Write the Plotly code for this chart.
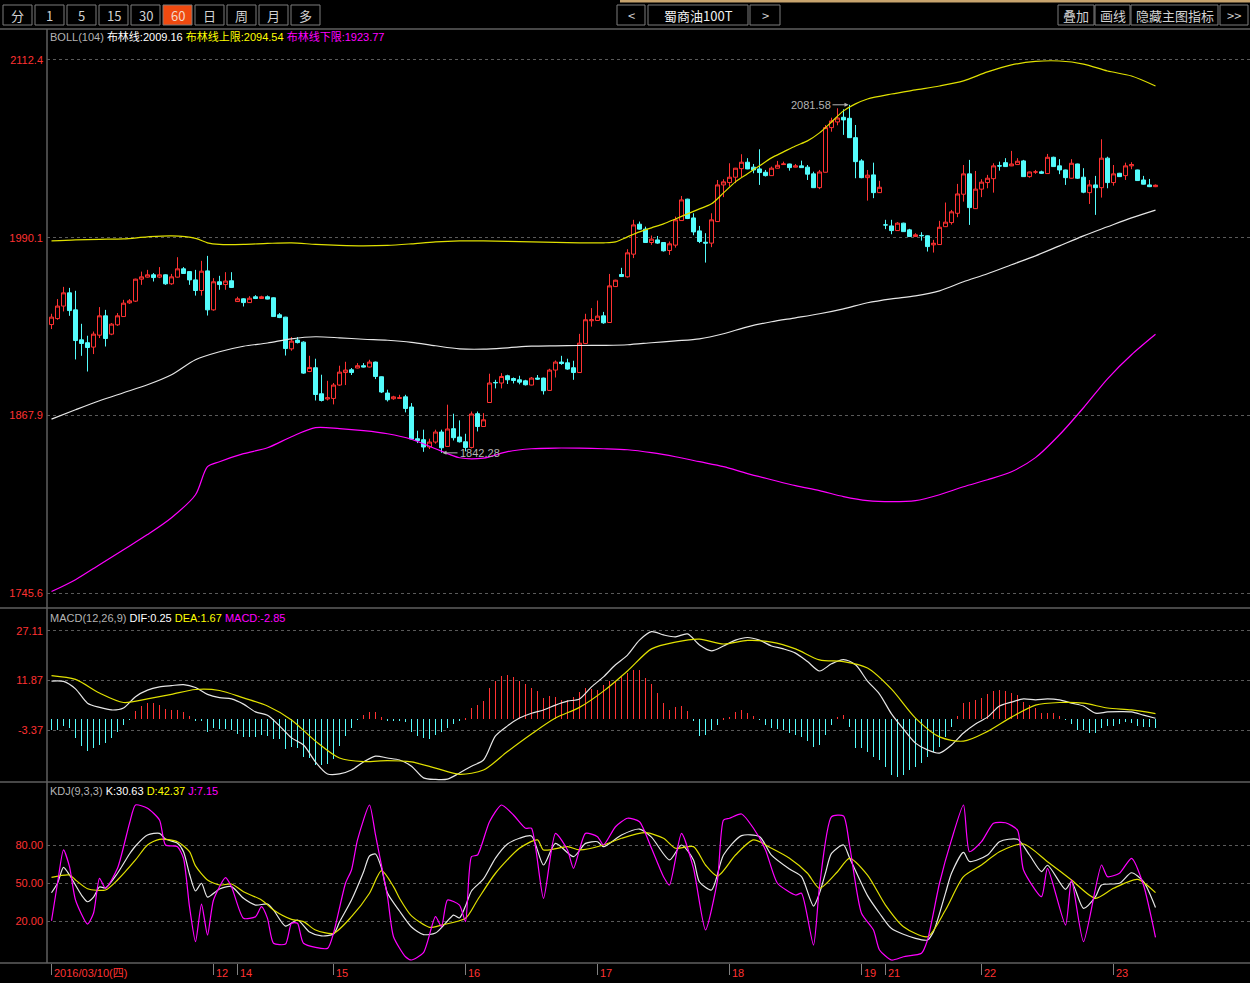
import plotly.graph_objects as go

# ---------------- data ----------------
day_start = [0, 27, 31, 47, 69, 91, 113, 135, 139, 155, 177]
day_text = ["2016/03/10(四)", "12", "14", "15", "16", "17", "18", "19", "21", "22", "23"]

open_ = [1930.5,1934.6,1943.2,1952.3,1940.6,1920.0,1918.0,1915.0,1923.2,1936.5,
         1923.9,1930.3,1936.0,1945.4,1946.6,1961.7,1963.1,1964.7,1963.1,1964.7,
         1958.5,1963.1,1968.8,1966.9,1961.2,1953.9,1967.4,1940.6,1959.9,1958.0,
         1960.6,1946.3,1948.2,1945.6,1949.6,1948.4,1949.6,1948.9,1937.2,1935.6,
         1913.8,1919.8,1918.4,1898.2,1900.8,1882.9,1879.3,1879.7,1888.9,1897.5,
         1899.4,1900.6,1902.2,1901.3,1904.7,1894.6,1883.4,1879.5,1879.7,1880.8,
         1873.8,1852.0,1851.3,1846.3,1849.7,1856.6,1846.7,1858.9,1853.2,1849.9,
         1846.0,1869.2,1860.4,1876.9,1890.7,1890.3,1895.3,1893.4,1892.5,1891.8,
         1888.9,1893.7,1893.7,1885.2,1899.2,1904.7,1904.2,1900.8,1897.5,1917.5,
         1933.1,1933.3,1936.5,1931.9,1956.6,1964.9,1963.3,1978.9,1999.5,1996.1,
         1986.9,1988.7,1986.9,1981.4,1985.1,2002.0,2016.7,2003.8,1994.9,1987.1,
         1986.5,2001.3,2026.5,2028.1,2031.8,2037.7,2042.1,2038.7,2037.5,2035.2,
         2032.9,2038.0,2040.5,2040.9,2038.7,2039.6,2038.7,2034.1,2024.6,2035.2,
         2065.9,2069.8,2073.0,2072.3,2059.0,2043.0,2031.5,2033.4,2021.2,1999.0,
         1998.3,1995.1,2000.2,1995.6,1991.0,1991.8,1991.5,1985.3,1985.5,1997.8,
         2000.6,2007.0,2020.1,2034.1,2010.2,2023.6,2028.1,2030.8,2039.7,2041.8,
         2039.6,2040.5,2043.0,2032.2,2035.4,2035.5,2034.3,2045.5,2039.6,2036.8,
         2031.1,2040.9,2031.8,2021.2,2026.5,2024.6,2044.9,2028.1,2034.5,2032.9,
         2039.6,2036.8,2029.9,2026.5,2025.3]
high = [1937.9,1948.0,1956.4,1955.7,1953.7,1931.0,1922.8,1925.7,1942.5,1940.6,
        1931.5,1938.4,1947.5,1948.0,1962.0,1966.9,1968.1,1965.9,1970.0,1965.0,
        1965.3,1976.8,1970.0,1967.2,1968.1,1974.3,1977.7,1962.4,1964.0,1966.5,
        1966.5,1949.6,1948.6,1950.0,1950.7,1950.3,1950.5,1949.2,1938.4,1935.8,
        1921.9,1921.9,1919.0,1909.0,1907.0,1896.0,1891.8,1890.3,1902.2,1904.9,
        1900.6,1904.0,1904.0,1906.3,1905.0,1894.8,1885.7,1881.5,1882.2,1882.2,
        1876.5,1857.5,1858.2,1852.0,1858.2,1858.2,1875.4,1869.2,1864.6,1855.4,
        1870.7,1870.7,1869.6,1896.7,1892.5,1897.1,1896.0,1894.1,1895.3,1892.5,
        1894.4,1895.8,1894.0,1900.1,1905.8,1909.0,1907.0,1905.6,1924.1,1937.9,
        1941.8,1947.0,1939.2,1965.3,1961.3,1969.5,1982.3,2002.5,2001.3,1997.8,
        1991.7,1991.4,1987.1,1987.6,2004.7,2018.9,2017.0,2007.0,1998.3,1993.3,
        2007.0,2029.9,2030.4,2041.4,2038.2,2047.6,2044.9,2040.9,2051.0,2036.8,
        2039.1,2043.0,2042.5,2041.1,2040.9,2043.2,2040.2,2035.6,2036.8,2067.7,
        2072.7,2079.2,2078.5,2081.58,2067.7,2044.2,2036.8,2041.8,2029.3,2002.5,
        2002.5,2000.9,2000.5,1996.3,1993.3,1994.0,1991.8,1988.7,2001.8,2014.4,
        2009.3,2027.2,2040.2,2043.7,2036.1,2030.4,2033.4,2041.4,2042.5,2044.9,
        2049.9,2044.9,2043.7,2035.6,2036.8,2036.3,2047.8,2045.9,2044.2,2037.0,
        2044.2,2041.1,2038.0,2029.9,2032.7,2057.9,2045.9,2040.2,2034.8,2041.8,
        2042.1,2037.0,2032.7,2030.6,2026.8]
low = [1927.4,1933.8,1939.5,1936.5,1906.5,1909.0,1898.2,1910.2,1921.2,1915.4,
       1923.2,1929.6,1935.8,1944.7,1946.0,1957.8,1962.8,1960.1,1962.4,1957.8,
       1957.8,1962.8,1965.3,1957.8,1950.4,1950.4,1936.7,1940.0,1954.4,1954.4,
       1955.6,1946.1,1942.9,1945.3,1948.0,1948.2,1947.8,1935.8,1934.9,1909.2,
       1912.5,1917.5,1896.6,1897.8,1878.3,1877.6,1878.3,1875.6,1888.4,1888.9,
       1895.8,1900.4,1901.0,1901.0,1893.0,1883.4,1877.6,1878.8,1879.5,1870.1,
       1851.5,1849.0,1843.0,1844.9,1848.6,1842.28,1846.4,1850.8,1849.4,1843.3,
       1845.3,1857.0,1860.2,1876.7,1886.6,1886.6,1889.6,1890.0,1889.4,1888.6,
       1888.7,1892.5,1882.4,1884.8,1894.1,1902.8,1899.4,1892.5,1897.3,1917.3,
       1929.1,1933.0,1931.0,1931.7,1956.3,1963.3,1962.8,1976.2,1995.8,1986.6,
       1985.3,1986.0,1980.7,1978.4,1983.4,2001.8,2003.0,1991.9,1986.5,1973.1,
       1983.7,2001.0,2018.1,2025.3,2027.7,2031.8,2037.3,2034.5,2026.5,2032.3,
       2032.7,2037.9,2040.2,2036.3,2038.5,2038.2,2029.9,2024.4,2023.6,2035.0,
       2063.1,2067.5,2060.9,2058.8,2031.1,2031.1,2015.7,2017.4,2021.0,1996.1,
       1992.6,1994.9,1994.2,1990.8,1990.8,1988.2,1980.7,1980.0,1985.3,1997.6,
       1999.2,2004.3,2015.0,1999.0,2010.0,2018.1,2024.2,2021.2,2036.3,2038.9,
       2039.4,2040.3,2032.0,2031.5,2034.1,2034.0,2034.1,2038.9,2033.9,2026.5,
       2030.9,2030.6,2020.8,2013.4,2005.9,2017.8,2024.2,2026.0,2032.0,2029.9,
       2037.3,2029.3,2026.8,2025.0,2025.0]
close = [1935.6,1943.2,1952.3,1940.1,1919.5,1917.5,1914.7,1923.9,1936.5,1920.9,
         1930.8,1936.5,1945.2,1946.8,1961.7,1963.3,1964.7,1962.8,1964.7,1958.5,
         1963.3,1968.8,1965.6,1961.2,1953.9,1967.2,1940.6,1959.9,1958.0,1960.4,
         1956.0,1948.2,1945.6,1948.6,1948.4,1949.6,1948.0,1936.0,1935.3,1914.0,
         1919.1,1918.1,1897.1,1901.0,1882.4,1878.3,1880.2,1888.9,1897.8,1899.2,
         1897.5,1902.2,1901.3,1904.7,1894.8,1884.1,1878.8,1880.8,1880.2,1872.8,
         1851.8,1850.8,1846.3,1849.7,1856.6,1845.8,1858.7,1852.7,1849.9,1846.0,
         1869.0,1860.4,1865.0,1890.3,1890.5,1894.8,1892.5,1892.0,1890.9,1889.1,
         1893.7,1893.0,1885.0,1899.2,1904.7,1903.7,1899.9,1897.5,1917.7,1933.8,
         1933.8,1936.3,1931.7,1957.1,1961.0,1963.5,1979.8,1999.0,1996.1,1986.9,
         1989.2,1986.5,1981.2,1986.0,2002.5,2016.2,2003.4,1994.2,1987.6,1986.5,
         2002.5,2026.5,2028.6,2031.8,2038.0,2042.1,2037.5,2036.8,2035.0,2032.9,
         2038.0,2040.0,2040.9,2038.4,2039.6,2038.4,2033.9,2024.6,2035.4,2065.9,
         2070.5,2072.5,2071.2,2059.0,2042.5,2031.5,2033.2,2021.2,2024.9,1999.0,
         1995.1,2000.2,1994.4,1991.0,1992.2,1991.6,1984.1,1986.4,1997.4,2000.9,
         2008.0,2020.3,2034.1,2010.9,2023.6,2028.4,2031.1,2039.6,2039.5,2039.1,
         2040.9,2042.8,2032.2,2035.4,2035.4,2034.5,2045.5,2039.1,2036.8,2031.5,
         2041.4,2031.1,2021.5,2026.5,2024.6,2044.9,2028.1,2034.1,2032.2,2039.6,
         2040.5,2029.5,2027.0,2025.3,2026.3]

# BOLL(104) lines, read at sampled bar positions
up_idx = [0,4,8,12,16,20,24,26,28,32,36,40,44,48,52,56,60,64,68,72,76,80,84,88,92,94,96,98,100,
          102,104,106,108,110,112,114,116,118,120,122,124,126,128,130,132,134,136,140,144,148,152,
          156,160,164,168,172,176,180,184]
boll_up = [1988.0,1988.7,1989.1,1989.4,1990.8,1991.5,1989.8,1986.7,1985.6,1985.6,1986.3,1986.7,
           1985.6,1984.9,1984.6,1984.9,1986.0,1987.3,1988.0,1988.0,1987.7,1987.3,1987.0,1986.7,
           1986.7,1987.3,1990.8,1994.2,1997.0,1999.7,2003.1,2006.6,2010.0,2013.5,2021.0,2028.6,
           2034.1,2039.6,2045.1,2049.2,2053.3,2056.8,2062.3,2069.8,2077.4,2082.2,2085.6,2089.0,
           2091.8,2094.5,2098.0,2104.2,2109.0,2111.4,2111.7,2109.6,2104.8,2101.4,2094.54]
mid_idx = [0,4,8,12,16,20,24,28,32,36,40,44,48,52,56,60,64,68,72,76,80,84,88,92,96,100,104,108,
           112,116,120,124,128,132,136,140,144,148,152,156,160,164,168,172,176,180,184]
boll_mid = [1865.5,1871.9,1878.1,1883.6,1889.1,1896.0,1906.3,1911.8,1915.6,1917.8,1920.7,1922.1,
            1921.4,1920.4,1919.7,1918.3,1915.9,1913.8,1913.6,1914.5,1915.6,1915.9,1916.1,1916.2,
            1916.6,1918.0,1919.3,1920.7,1924.2,1928.9,1932.4,1935.1,1937.9,1941.3,1945.5,1948.2,
            1950.2,1953.7,1959.9,1965.4,1971.6,1977.7,1984.6,1991.5,1997.7,2003.8,2009.16]
dn_idx = [0,4,8,12,16,20,24,26,28,32,36,40,44,48,52,56,60,64,68,72,76,80,84,88,92,96,100,104,108,
          112,116,120,124,128,132,136,140,144,148,152,156,160,164,168,172,176,180,184]
boll_dn = [1746.9,1755.1,1765.4,1775.7,1786.1,1797.7,1813.5,1832.8,1836.2,1841.7,1845.8,1853.4,
           1859.6,1858.9,1857.5,1855.4,1851.6,1845.1,1838.9,1838.7,1843.1,1845.1,1845.6,1845.5,
           1845.1,1844.4,1842.4,1839.6,1836.2,1832.8,1828.0,1823.8,1819.7,1816.3,1812.2,1809.4,
           1808.7,1809.4,1813.5,1819.0,1823.8,1829.3,1839.0,1854.7,1873.3,1893.2,1909.7,1923.77]

# MACD(12,26,9)
dif_idx = list(range(0, 185, 2))
dif = [11.7,11.6,9.3,4.9,3.6,2.8,3.4,6.9,8.9,9.9,
       10.3,10.6,9.7,7.6,6.6,6.2,4.6,2.2,1.2,-2.1,
       -5.8,-8.0,-13.2,-16.9,-16.9,-15.7,-13.2,-11.4,-12.0,-12.6,
       -14.5,-18.1,-18.6,-18.5,-16.6,-14.5,-12.6,-5.2,-2.1,0.3,
       1.8,2.8,4.3,5.5,6.2,9.9,13.0,16.7,19.7,24.3,
       26.9,25.9,25.3,26.2,22.8,21.0,22.5,24.3,25.1,24.3,
       22.5,21.6,20.3,17.7,14.8,17.0,18.3,16.7,11.7,7.7,
       1.6,-3.1,-7.4,-9.5,-10.5,-8.0,-4.3,-1.5,0.6,4.0,
       5.2,6.2,5.9,6.2,5.9,4.9,4.0,1.8,2.2,2.3,
       2.2,1.2,0.25]
dea_idx = list(range(0, 185, 4))
dea = [13.4,12.2,8.0,5.1,6.2,7.6,9.1,8.8,6.5,4.0,
       -0.3,-6.8,-12.0,-13.1,-12.8,-13.2,-15.1,-17.0,-15.7,-10.0,
       -4.6,0.3,3.6,8.6,14.8,21.6,23.7,24.6,23.1,24.2,
       23.7,21.6,18.2,17.7,15.7,9.2,0.3,-5.5,-6.8,-3.8,
       0.6,4.3,5.1,4.9,3.4,2.8,1.67]
macd_hist = [-3.4,-3.4,-2.1,-2.8,-5.9,-8.2,-9.7,-9.0,-8.0,-7.3,
             -5.9,-3.9,-1.8,-0.2,2.5,4.0,4.8,4.8,4.3,3.0,
             2.8,2.8,2.3,0.9,-0.3,-0.3,-3.9,-2.8,-3.1,-3.1,
             -3.4,-4.6,-5.4,-5.4,-5.4,-4.9,-5.2,-6.2,-6.2,-9.2,
             -8.5,-9.0,-11.6,-12.1,-14.2,-14.2,-13.8,-12.4,-8.2,-5.1,
             -2.7,-0.2,1.2,2.3,2.3,0.5,-0.3,-0.5,-0.3,-0.8,
             -3.9,-5.1,-5.9,-6.2,-4.9,-3.9,-2.7,-1.5,-0.3,0.3,
             3.3,4.3,5.5,9.5,11.7,13.3,13.6,12.8,11.8,10.8,
             9.6,8.6,6.6,7.1,6.9,5.9,5.9,6.7,8.4,9.5,
             9.2,8.9,10.5,11.8,11.8,13.0,14.1,15.1,15.1,12.7,
             10.8,7.9,4.8,2.8,3.8,4.0,2.6,-0.3,-5.2,-4.9,
             -3.4,-1.8,0.2,0.7,2.1,2.8,1.8,0.9,-0.2,-1.8,
             -2.8,-3.1,-3.4,-4.4,-4.9,-5.4,-6.9,-8.5,-8.0,-4.9,
             -1.8,0.7,1.2,-2.5,-9.0,-9.0,-10.0,-11.6,-12.6,-14.7,
             -17.2,-17.7,-17.2,-15.6,-14.7,-13.6,-11.6,-10.0,-8.5,-5.4,
             -2.3,0.9,4.8,5.1,5.9,6.6,7.7,8.7,8.9,8.7,
             7.9,7.4,5.3,4.3,3.3,1.9,1.9,1.8,0.9,-0.2,
             -1.5,-3.4,-3.4,-4.4,-4.2,-2.8,-2.1,-2.1,-1.5,-0.8,
             -1.3,-2.1,-2.3,-2.5,-2.85]

# KDJ(9,3,3)
k_idx = [0,1,2,3,5,6,7,8,9,11,13,14,16,18,19,21,22,23,24,25,26,28,30,32,34,36,37,39,41,43,45,47,48,
         50,52,53,54,55,56,58,60,62,64,66,67,68,69,70,72,74,76,78,80,82,84,87,89,91,92,95,98,100,
         103,105,107,108,110,112,115,118,120,123,125,127,128,129,130,132,133,136,138,140,144,146,
         147,149,150,152,153,156,158,161,163,165,166,169,170,172,174,175,178,180,182,184]
k_val = [42.3,49.8,62.4,56.3,40.5,35.2,38.9,46.9,46.1,57.7,72.9,79.2,87.9,89.2,84.7,81.3,74.7,57.1,
         43.7,49.8,38.9,45.3,47.1,37.9,32.6,33.4,28.7,16.0,20.8,11.3,8.2,9.7,19.2,36.6,58.7,71.3,
         72.9,61.8,42.1,27.9,15.3,9.3,10.5,20.0,24.7,22.4,31.8,43.7,53.2,69.7,80.8,85.3,87.1,64.2,
         81.3,70.8,81.3,82.6,78.7,87.9,92.6,86.2,68.2,80.0,68.2,50.8,44.5,72.1,87.4,86.6,72.0,61.0,
         55.0,31.8,42.0,58.0,73.4,80.0,70.0,40.0,26.1,14.0,6.3,5.0,11.6,42.0,57.7,74.2,67.0,72.1,
         82.6,84.5,72.1,59.0,64.0,45.0,51.0,30.0,39.2,48.4,49.8,58.1,51.0,30.63]
d_idx = [0,3,4,6,9,11,14,16,18,21,23,24,26,28,30,32,35,37,40,42,44,47,50,53,55,57,58,60,63,65,69,
         71,74,78,81,82,86,88,92,95,99,102,104,107,109,111,114,117,120,123,126,128,131,133,136,139,
         142,146,149,152,155,158,162,166,170,174,177,181,184]
d_val = [54.5,56.3,52.4,45.5,44.5,52.4,68.2,80.0,84.5,82.6,74.7,63.5,52.4,48.4,49.2,43.1,36.6,28.7,
         21.3,19.5,12.9,10.3,23.4,41.9,59.7,47.1,38.0,24.0,15.0,16.8,22.1,36.6,57.7,77.4,84.0,76.1,
         78.7,76.1,80.0,85.3,89.7,85.3,77.4,78.7,64.2,55.5,72.1,84.0,77.4,69.5,57.7,45.8,58.9,69.5,
         56.3,32.6,15.5,7.6,28.7,55.0,64.2,74.7,80.8,66.8,52.4,37.9,45.8,52.9,42.37]
j_idx = [0,1,2,3,4,6,7,8,9,11,13,14,16,18,19,21,22,23,24,25,26,27,29,30,32,34,35,36,37,39,40,41,42,
         46,47,49,50,51,53,54,56,57,59,60,62,64,65,66,68,69,70,71,73,75,77,79,80,82,84,86,87,89,91,
         92,94,96,98,100,102,103,105,107,109,111,112,113,115,117,119,121,124,125,127,128,130,132,
         133,135,137,138,140,142,145,146,148,150,152,153,155,157,159,161,162,165,166,169,170,172,
         175,176,178,180,182,184]
j_val = [20.2,49.8,76.1,62.9,36.6,17.6,26.1,53.7,45.8,61.6,97.1,111.6,109.0,99.7,80.0,78.7,69.5,
         31.3,3.7,33.4,8.9,36.6,54.2,47.1,22.1,23.4,31.3,22.1,2.4,1.8,18.2,18.2,2.4,-1.6,10.3,49.8,
         60.3,84.0,111.6,87.9,39.2,7.6,-8.2,-10.8,-5.0,23.4,15.5,36.6,32.6,19.5,70.8,72.1,98.4,
         111.6,103.7,93.2,93.2,37.9,89.2,76.1,61.6,89.2,86.6,80.0,94.4,101.1,98.4,77.4,55.0,48.4,
         89.2,61.6,12.9,52.4,99.7,101.1,104.5,93.2,76.1,49.8,40.5,41.9,1.0,47.1,102.3,102.9,80.0,
         26.1,12.9,-2.9,-10.8,-8.2,-5.5,5.0,49.8,84.0,111.6,74.7,82.6,97.1,97.6,91.8,60.3,39.2,
         61.6,16.8,52.4,3.7,64.2,55.0,57.7,69.5,48.4,7.15]

main_ticks = [1745.6, 1867.9, 1990.1, 2112.4]
macd_ticks = [-3.37, 11.87, 27.11]
kdj_ticks = [20, 50, 80]

# ---------------- geometry helpers ----------------
W, H = 1250, 983
ML, MT, MB = 47, 29, 20
PW, PH = W - ML, H - MT - MB


def pxx(x):
    return (x - ML) / PW


def pxy(y):
    return (H - MB - y) / PH


RED = '#ff3232'
CYAN = '#54fcfc'
YEL = '#e0e000'
MAG = '#ff00ff'
WHT = '#e6e6e6'
GRID = '#5a5a5a'
BORDER = '#5f5f5f'
FONT = 'Liberation Sans, Noto Sans CJK SC, sans-serif'
CJK = 'Noto Sans CJK SC, sans-serif'

xs = list(range(len(close)))

fig = go.Figure()
fig.add_trace(go.Candlestick(
    x=xs, open=open_, high=high, low=low, close=close,
    increasing=dict(line=dict(color=RED, width=1), fillcolor='#000000'),
    decreasing=dict(line=dict(color=CYAN, width=1), fillcolor=CYAN),
    whiskerwidth=0, xaxis='x', yaxis='y', hoverinfo='skip', showlegend=False))


def line(xv, yv, color, ax, w=1.2, sm=0.8):
    fig.add_trace(go.Scatter(x=xv, y=yv, mode='lines', yaxis=ax, xaxis='x',
                             line=dict(color=color, width=w, shape='spline', smoothing=sm),
                             hoverinfo='skip', showlegend=False))


line(up_idx, boll_up, YEL, 'y')
line(mid_idx, boll_mid, WHT, 'y')
line(dn_idx, boll_dn, MAG, 'y')

fig.add_trace(go.Bar(x=xs, y=macd_hist, width=1 / 6, yaxis='y2', xaxis='x',
                     marker=dict(color=[RED if v >= 0 else CYAN for v in macd_hist], line=dict(width=0)),
                     hoverinfo='skip', showlegend=False))
line(dif_idx, dif, WHT, 'y2')
line(dea_idx, dea, YEL, 'y2')

line(k_idx, k_val, WHT, 'y3', sm=0.7)
line(d_idx, d_val, YEL, 'y3', sm=0.7)
line(j_idx, j_val, MAG, 'y3', sm=0.6)


def yax(domain, rng, ticks, text):
    return dict(domain=domain, range=rng, anchor='x', tickmode='array', tickvals=ticks, ticktext=text,
                showgrid=True, gridcolor=GRID, griddash='dot', gridwidth=1, zeroline=False,
                showline=False, ticks='', tickfont=dict(color=RED, size=11, family=FONT),
                fixedrange=True, ticklabelstandoff=3)


fig.update_layout(
    width=W, height=H,
    margin=dict(l=ML, r=0, t=MT, b=MB, pad=0),
    paper_bgcolor='#000000', plot_bgcolor='#000000',
    showlegend=False, hovermode=False,
    boxgap=1 / 3, boxgroupgap=0, bargap=0,
    xaxis=dict(domain=[0, 1], range=[-0.75, 199.75], anchor='y3', showgrid=False, zeroline=False,
               showticklabels=False, ticks='outside', ticklen=11, tickcolor='#808080', tickwidth=1,
               tickmode='array', tickvals=day_start, rangeslider=dict(visible=False),
               showline=False, fixedrange=True),
    yaxis=yax([pxy(607), 1.0], [1736.3, 2133.7], main_ticks, [f"{v:.1f}" for v in main_ticks]),
    yaxis2=yax([pxy(781), pxy(609)], [-19.07, 33.88], macd_ticks, [f"{v:.2f}" for v in macd_ticks]),
    yaxis3=yax([0, pxy(783)], [-13.16, 128.95], kdj_ticks, [f"{v:.2f}" for v in kdj_ticks]),
)

shapes = []
ann = []

# panel borders
for yy in (29, 608, 782, 963):
    shapes.append(dict(type='line', xref='paper', yref='paper', x0=pxx(0), x1=1, y0=pxy(yy), y1=pxy(yy),
                       line=dict(color=BORDER, width=1.5)))
shapes.append(dict(type='line', xref='paper', yref='paper', x0=0, x1=0, y0=0, y1=1,
                   line=dict(color=BORDER, width=1.5)))
shapes.append(dict(type='rect', xref='paper', yref='paper', x0=pxx(620), x1=1, y0=pxy(2.5), y1=pxy(0),
                   fillcolor='#c8a46e', line=dict(width=0)))


def button(x0, x1, label, fill='#000000', color='#d2d2d2', size=13):
    shapes.append(dict(type='rect', xref='paper', yref='paper', x0=pxx(x0), x1=pxx(x1),
                       y0=pxy(25), y1=pxy(5), fillcolor=fill, line=dict(color='#7c7c7c', width=1)))
    ann.append(dict(xref='paper', yref='paper', x=pxx((x0 + x1) / 2), y=pxy(15), text=label,
                    showarrow=False, xanchor='center', yanchor='middle',
                    font=dict(family=CJK, size=size, color=color)))


for i, lab in enumerate(["分", "1", "5", "15", "30", "60", "日", "周", "月", "多"]):
    x0 = 3 + 32 * i
    button(x0, x0 + 29, lab, fill='#f04a10' if lab == "60" else '#000000',
           color='#f4d8c8' if lab == "60" else '#d2d2d2')
button(617, 645, "&lt;")
button(648, 748, "蜀商油100T", color='#f0f0f0')
button(750, 780, "&gt;")
button(1058, 1094, "叠加")
button(1095, 1130, "画线")
button(1131, 1218, "隐藏主图指标")
button(1220, 1248, "&gt;&gt;")

# indicator titles
def title(y, parts):
    txt = " ".join(f'<span style="color:{c}">{t}</span>' for t, c in parts)
    ann.append(dict(xref='paper', yref='paper', x=pxx(48), y=pxy(y), text=txt, showarrow=False,
                    xanchor='left', yanchor='middle', font=dict(family=FONT, size=11)))


title(37, [("BOLL(104)", '#b4b4b4'), ("布林线:2009.16", '#ffffff'), ("布林线上限:2094.54", '#ffff00'),
           ("布林线下限:1923.77", '#ff00ff')])
title(618, [("MACD(12,26,9)", '#b4b4b4'), ("DIF:0.25", '#ffffff'), ("DEA:1.67", '#ffff00'),
            ("MACD:-2.85", '#ff00ff')])
title(791, [("KDJ(9,3,3)", '#b4b4b4'), ("K:30.63", '#ffffff'), ("D:42.37", '#ffff00'),
            ("J:7.15", '#ff00ff')])

# extreme-price markers
hi_i = high.index(max(high))
lo_i = low.index(min(low))
ann.append(dict(xref='x', yref='y', x=hi_i, y=max(high), text=f"{max(high):.2f}", showarrow=True,
                ax=-17, ay=0, xanchor='right', arrowhead=2, arrowsize=0.8, arrowwidth=1,
                arrowcolor='#b4b4b4', standoff=1, font=dict(family=FONT, size=11, color='#b4b4b4')))
ann.append(dict(xref='x', yref='y', x=lo_i, y=min(low), text=f"{min(low):.2f}", showarrow=True,
                ax=16, ay=0, xanchor='left', arrowhead=2, arrowsize=0.8, arrowwidth=1,
                arrowcolor='#b4b4b4', standoff=1, font=dict(family=FONT, size=11, color='#b4b4b4')))

# date labels
for idx, lab in zip(day_start, day_text):
    ann.append(dict(xref='x', yref='paper', x=idx, y=pxy(973), text=lab, showarrow=False,
                    xanchor='left', yanchor='middle', xshift=0,
                    font=dict(family=FONT + ', ' + CJK, size=11, color=RED)))

fig.update_layout(shapes=shapes, annotations=ann)

fig.write_html("out.html", config={'displayModeBar': False},
               post_script="document.body.style.margin='0px';")
